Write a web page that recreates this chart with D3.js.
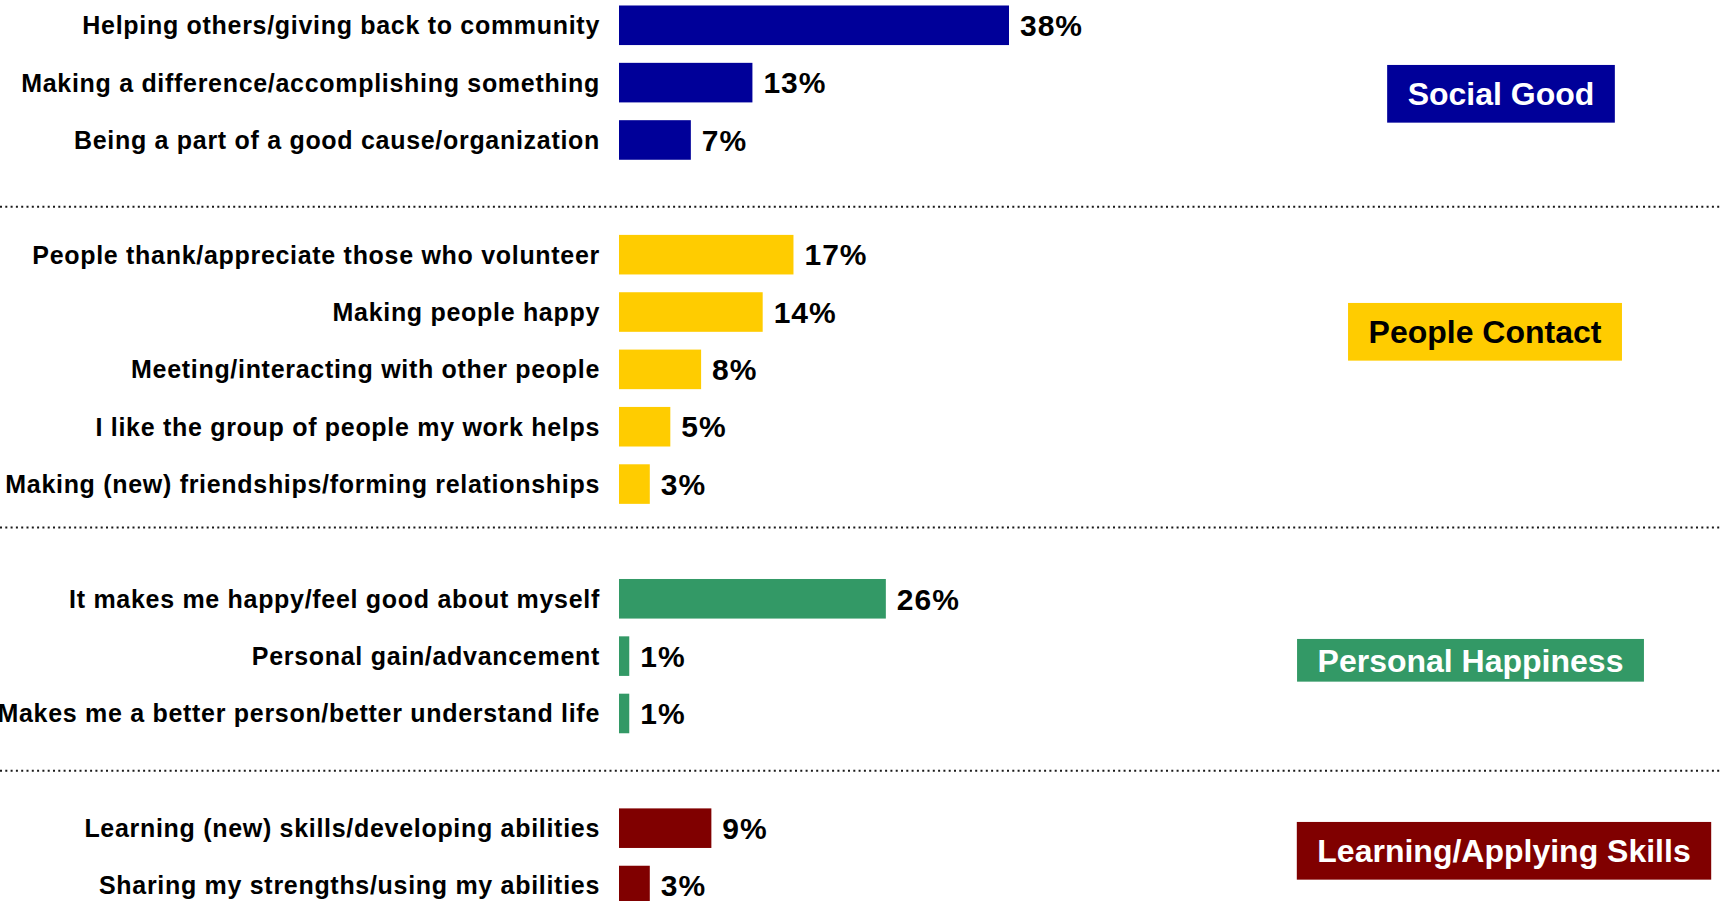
<!DOCTYPE html>
<html>
<head>
<meta charset="utf-8">
<script src="https://cdn.jsdelivr.net/npm/d3@7"></script>
<style>
  html, body { margin: 0; padding: 0; background: #ffffff; overflow: hidden; }
  svg { display: block; font-family: "Liberation Sans", Arial, Helvetica, sans-serif; }
</style>
</head>
<body>
<svg id="chart" width="1721" height="901"></svg>
<script>
// Reasons for volunteering, grouped by theme (percent of respondents)
const groupNames  = ["Social Good", "People Contact", "Personal Happiness", "Learning/Applying Skills"];
const groupColors = ["#000099", "#FFCC00", "#339966", "#800000"];
const groupText   = ["#ffffff", "#000000", "#ffffff", "#ffffff"];

const socialGoodItems  = ["Helping others/giving back to community",
                          "Making a difference/accomplishing something",
                          "Being a part of a good cause/organization"];
const socialGoodValues = [38, 13, 7];

const peopleContactItems  = ["People thank/appreciate those who volunteer",
                             "Making people happy",
                             "Meeting/interacting with other people",
                             "I like the group of people my work helps",
                             "Making (new) friendships/forming relationships"];
const peopleContactValues = [17, 14, 8, 5, 3];

const happinessItems  = ["It makes me happy/feel good about myself",
                         "Personal gain/advancement",
                         "Makes me a better person/better understand life"];
const happinessValues = [26, 1, 1];

const skillsItems  = ["Learning (new) skills/developing abilities",
                      "Sharing my strengths/using my abilities"];
const skillsValues = [9, 3];

const groupItems  = [socialGoodItems, peopleContactItems, happinessItems, skillsItems];
const groupValues = [socialGoodValues, peopleContactValues, happinessValues, skillsValues];

// ---- layout ----
const W = 1721, H = 901;
const barLeft = 619;
const labelRight = 600;
const catFont = 25, valFont = 30, tagFont = 32;
// theme tag boxes: centre x, centre y, box height
const tagLayout = [
  { cx: 1501,   cy: 93.8,  h: 57.7 },
  { cx: 1485,   cy: 331.8, h: 57.7 },
  { cx: 1470.5, cy: 660.3, h: 42.7 },
  { cx: 1504,   cy: 850.8, h: 57.7 }
];
const separatorShift = [9.5, -14, 0];

// flatten rows, inserting an empty slot after each group
const rows = [];
const slots = [];
groupItems.forEach((items, g) => {
  items.forEach((name, i) => {
    rows.push({ name, value: groupValues[g][i], group: g });
    slots.push(name);
  });
  if (g < groupItems.length - 1) slots.push("gap-" + g);
});

const step = 57.35;
const y = d3.scaleBand()
  .domain(slots)
  .range([-3.4, -3.4 + step * slots.length])
  .paddingInner(0.31)
  .paddingOuter(0.155);

const allValues = groupValues.flat();
const x = d3.scaleLinear()
  .domain([0, d3.max(allValues)])
  .range([barLeft, 1009]);

const svg = d3.select("#chart");

// dotted separators between themes
const sepData = groupItems.slice(0, -1).map((_, g) => ({
  yy: y("gap-" + g) + y.bandwidth() / 2 + separatorShift[g]
}));
svg.append("g").selectAll("line")
  .data(sepData)
  .join("line")
  .attr("x1", 0).attr("x2", W)
  .attr("y1", d => d.yy).attr("y2", d => d.yy)
  .attr("stroke", "#1a1a1a")
  .attr("stroke-width", 2)
  .attr("stroke-dasharray", "2,3.3");

// bars
svg.append("g").selectAll("rect")
  .data(rows)
  .join("rect")
  .attr("x", x(0))
  .attr("y", d => y(d.name))
  .attr("width", d => x(d.value) - x(0))
  .attr("height", y.bandwidth())
  .attr("fill", d => groupColors[d.group]);

// category labels
svg.append("g").selectAll("text")
  .data(rows)
  .join("text")
  .attr("x", labelRight)
  .attr("y", d => y(d.name) + y.bandwidth() / 2 + catFont * 0.716 / 2)
  .attr("text-anchor", "end")
  .attr("font-size", catFont)
  .attr("font-weight", "bold")
  .attr("letter-spacing", "0.7px")
  .attr("fill", "#000")
  .text(d => d.name);

// value labels
svg.append("g").selectAll("text")
  .data(rows)
  .join("text")
  .attr("x", d => x(d.value) + 11)
  .attr("y", d => y(d.name) + y.bandwidth() / 2 + valFont * 0.716 / 2)
  .attr("font-size", valFont)
  .attr("font-weight", "bold")
  .attr("letter-spacing", "1px")
  .attr("fill", "#000")
  .text(d => d.value + "%");

// theme tags
const tags = svg.append("g").selectAll("g")
  .data(groupNames.map((name, g) => ({ name, g, ...tagLayout[g] })))
  .join("g");

tags.append("text")
  .attr("x", d => d.cx)
  .attr("y", d => d.cy + tagFont * 0.716 / 2)
  .attr("text-anchor", "middle")
  .attr("font-size", tagFont)
  .attr("font-weight", "bold")
  .attr("fill", d => groupText[d.g])
  .text(d => d.name);

tags.each(function(d) {
  const t = d3.select(this).select("text");
  const w = t.node().getComputedTextLength() + 41;
  d3.select(this).insert("rect", "text")
    .attr("x", d.cx - w / 2)
    .attr("y", d.cy - d.h / 2)
    .attr("width", w)
    .attr("height", d.h)
    .attr("fill", groupColors[d.g]);
});
</script>
</body>
</html>
